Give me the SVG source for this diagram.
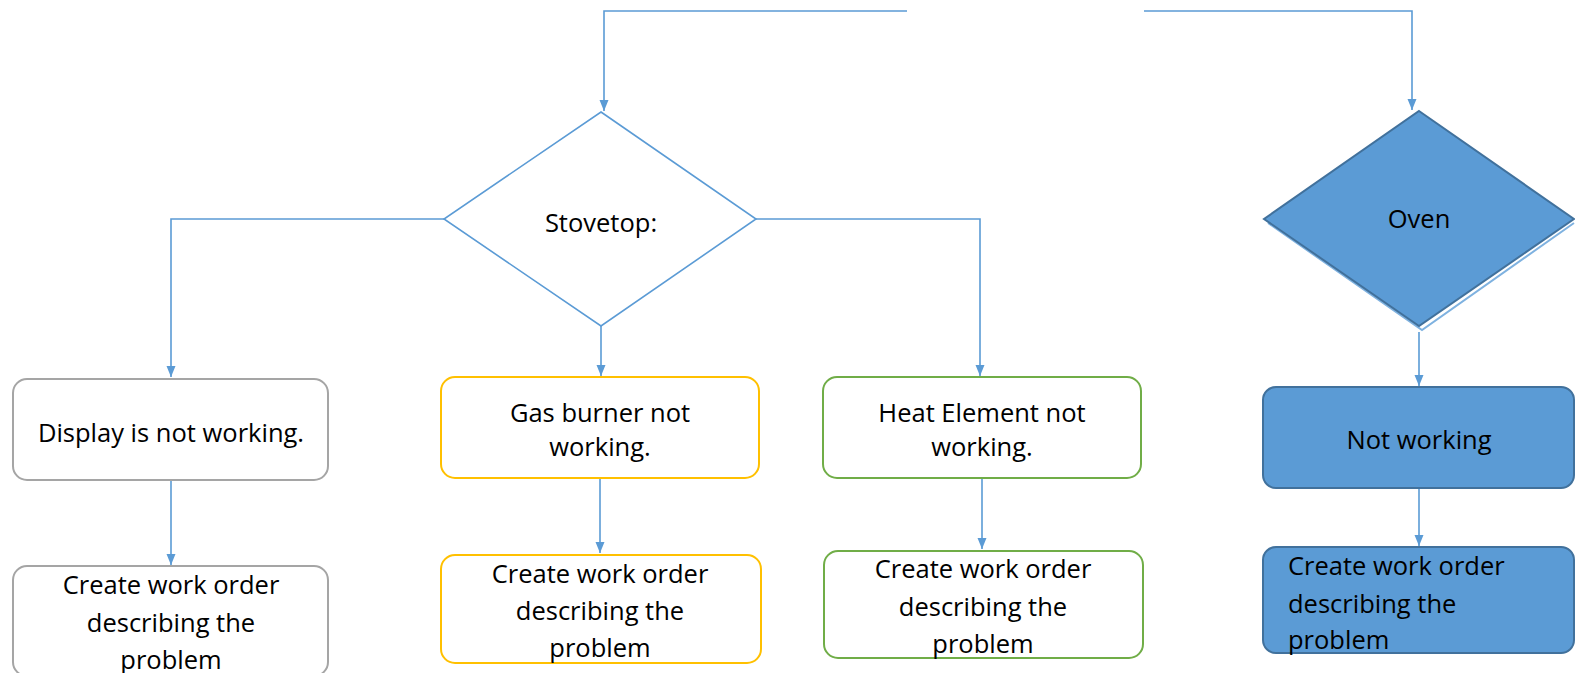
<svg xmlns="http://www.w3.org/2000/svg" width="1575" height="673" viewBox="0 0 1575 673">
  <style>
    .conn { fill: none; stroke: #5B9BD5; stroke-width: 1.6; }
    .lbl { font-family: "Open Sans", "Liberation Sans", sans-serif; font-size: 25.5px; fill: #000000; text-anchor: middle; }
    .lft { text-anchor: start; }
    .gray { fill: #FFFFFF; stroke: #A5A5A5; stroke-width: 2; }
    .gold { fill: #FFFFFF; stroke: #FFC000; stroke-width: 2; }
    .green { fill: #FFFFFF; stroke: #70AD47; stroke-width: 2; }
    .blue { fill: #5B9BD5; stroke: #41719C; stroke-width: 2; }
    .dia { fill: #FFFFFF; stroke: #5B9BD5; stroke-width: 1.6; }
  </style>
  <defs>
    <marker id="arr" markerUnits="userSpaceOnUse" markerWidth="12" markerHeight="10" refX="11" refY="4.5" orient="auto">
      <path d="M0,0 L11,4.5 L0,9 z" fill="#5B9BD5"/>
    </marker>
  </defs>
  <rect width="1575" height="673" fill="#FFFFFF"/>

  <g id="connectors">
    <path class="conn" d="M907 11 H604 V111" marker-end="url(#arr)"/>
    <path class="conn" d="M1144 11 H1412 V110" marker-end="url(#arr)"/>
    <path class="conn" d="M444 219 H171 V377" marker-end="url(#arr)"/>
    <path class="conn" d="M601 326 V376" marker-end="url(#arr)"/>
    <path class="conn" d="M756 219 H980 V376" marker-end="url(#arr)"/>
    <path class="conn" d="M171 481 V565" marker-end="url(#arr)"/>
    <path class="conn" d="M600 479 V553" marker-end="url(#arr)"/>
    <path class="conn" d="M982 479 V549" marker-end="url(#arr)"/>
    <path class="conn" d="M1419 332 V386" marker-end="url(#arr)"/>
    <path class="conn" d="M1419 488 V546" marker-end="url(#arr)"/>
  </g>

  <g id="stovetop">
    <polygon class="dia" points="601,112 756,219 601,326 444,219"/>
    <text class="lbl" x="601" y="232">Stovetop:</text>
  </g>

  <g id="oven">
    <polyline points="1574,223 1422,330 1268,223" fill="none" stroke="#7FB2E0" stroke-width="2"/>
    <polygon class="blue" points="1419,111 1574,219 1419,326 1264,219"/>
    <text class="lbl" x="1419" y="228">Oven</text>
  </g>

  <g id="display">
    <rect class="gray" x="13" y="379" width="315" height="101" rx="14"/>
    <text class="lbl" x="171" y="442">Display is not working.</text>
  </g>

  <g id="display-wo">
    <rect class="gray" x="13" y="566" width="315" height="110" rx="14"/>
    <text class="lbl" x="171" y="594">Create work order</text>
    <text class="lbl" x="171" y="632">describing the</text>
    <text class="lbl" x="171" y="669">problem</text>
  </g>

  <g id="gas">
    <rect class="gold" x="441" y="377" width="318" height="101" rx="14"/>
    <text class="lbl" x="600" y="422">Gas burner not</text>
    <text class="lbl" x="600" y="456">working.</text>
  </g>

  <g id="gas-wo">
    <rect class="gold" x="441" y="555" width="320" height="108" rx="14"/>
    <text class="lbl" x="600" y="583">Create work order</text>
    <text class="lbl" x="600" y="620">describing the</text>
    <text class="lbl" x="600" y="657">problem</text>
  </g>

  <g id="heat">
    <rect class="green" x="823" y="377" width="318" height="101" rx="14"/>
    <text class="lbl" x="982" y="422">Heat Element not</text>
    <text class="lbl" x="982" y="456">working.</text>
  </g>

  <g id="heat-wo">
    <rect class="green" x="824" y="551" width="319" height="107" rx="14"/>
    <text class="lbl" x="983" y="578">Create work order</text>
    <text class="lbl" x="983" y="616">describing the</text>
    <text class="lbl" x="983" y="653">problem</text>
  </g>

  <g id="not-working">
    <rect class="blue" x="1263" y="387" width="311" height="101" rx="13"/>
    <text class="lbl" x="1419" y="449">Not working</text>
  </g>

  <g id="oven-wo">
    <rect class="blue" x="1263" y="547" width="311" height="106" rx="13"/>
    <text class="lbl lft" x="1288" y="575">Create work order</text>
    <text class="lbl lft" x="1288" y="613">describing the</text>
    <text class="lbl lft" x="1288" y="649">problem</text>
  </g>
</svg>
